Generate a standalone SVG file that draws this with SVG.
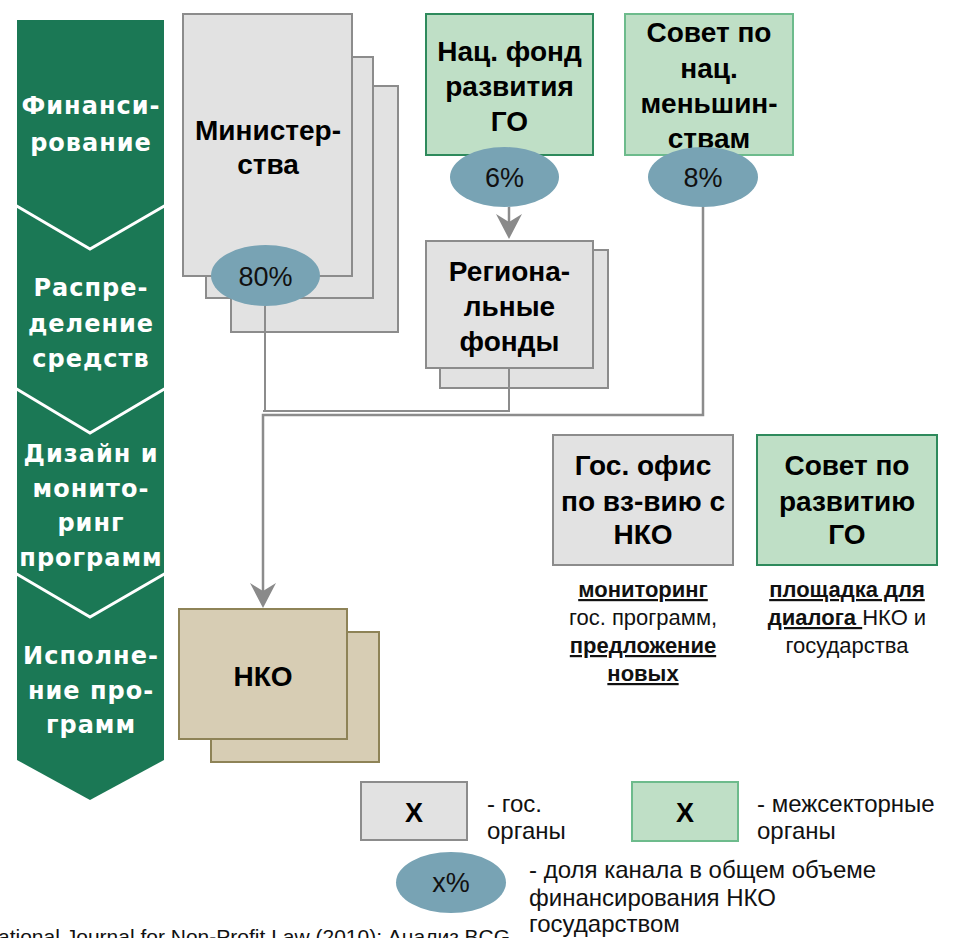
<svg xmlns="http://www.w3.org/2000/svg" width="957" height="938" viewBox="0 0 957 938">
<defs>
<style>
.stage{font-family:"DejaVu Sans",sans-serif;font-weight:bold;font-size:24px;fill:#fff;letter-spacing:1px;text-anchor:middle}
.gov{fill:#e2e2e2;stroke:#8c8c8c;stroke-width:2}
.inter{fill:#bfdfc6;stroke:#2e8a5c;stroke-width:2}
.inter2{fill:#bfdfc6;stroke:#6dbb8c;stroke-width:2}
.nko{fill:#d7cdb4;stroke:#8e8357;stroke-width:2}
.share{fill:#78a3b4}
.lbl{font-family:"Liberation Sans",Arial,sans-serif;font-weight:bold;font-size:28px;fill:#000;text-anchor:middle}
.pct{font-family:"Liberation Sans",Arial,sans-serif;font-size:27px;fill:#111;text-anchor:middle}
.note{font-family:"Liberation Sans",Arial,sans-serif;font-size:22px;fill:#111}
.leg{font-family:"Liberation Sans",Arial,sans-serif;font-size:24px;fill:#111}
.mid{text-anchor:middle}
.u{font-weight:bold;text-decoration:underline}
.conn{fill:none;stroke:#8c8c8c;stroke-width:2}
.sep{fill:none;stroke:#fff;stroke-width:3}
</style>
<marker id="arr" markerUnits="userSpaceOnUse" markerWidth="26" markerHeight="26" viewBox="0 0 26 26" refX="21" refY="13" orient="auto">
<path d="M0,0 L25,13 L0,26 L8,13 z" fill="#8a8a8a"/>
</marker>
</defs>

<g id="stages">
<polygon points="17,20 164,20 164,760 90,800 17,760" fill="#1b7855"/>
<polyline class="sep" points="15,205 90,249 166,205"/>
<polyline class="sep" points="15,388 90,433 166,388"/>
<polyline class="sep" points="15,573 90,617 166,573"/>
<text class="stage" x="91" y="114">Финанси-</text>
<text class="stage" x="91" y="151">рование</text>
<text class="stage" x="91" y="296">Распре-</text>
<text class="stage" x="91" y="332">деление</text>
<text class="stage" x="91" y="367">средств</text>
<text class="stage" x="91" y="462">Дизайн и</text>
<text class="stage" x="91" y="497">монито-</text>
<text class="stage" x="91" y="531">ринг</text>
<text class="stage" x="91" y="566">программ</text>
<text class="stage" x="91" y="664">Исполне-</text>
<text class="stage" x="91" y="699">ние про-</text>
<text class="stage" x="91" y="733">грамм</text>
</g>

<g id="ministries">
<rect class="gov" x="231" y="86" width="167" height="246"/>
<rect class="gov" x="206" y="57" width="167" height="241"/>
<rect class="gov" x="183" y="14" width="169" height="262"/>
<text class="lbl" x="268" y="140">Министер-</text>
<text class="lbl" x="268" y="174">ства</text>
<ellipse class="share" cx="265.5" cy="275.5" rx="54.5" ry="30.5"/>
<text class="pct" x="265.5" y="286">80%</text>
</g>

<g id="natfund">
<rect class="inter" x="426" y="14" width="167" height="141"/>
<text class="lbl" x="509.5" y="61">Нац. фонд</text>
<text class="lbl" x="509.5" y="96">развития</text>
<text class="lbl" x="509.5" y="131">ГО</text>
<ellipse class="share" cx="504.5" cy="177" rx="54.5" ry="30"/>
<text class="pct" x="504.5" y="187">6%</text>
</g>

<g id="minorities">
<rect class="inter2" x="625" y="14" width="168" height="141"/>
<text class="lbl" x="709" y="42">Совет по</text>
<text class="lbl" x="709" y="78">нац.</text>
<text class="lbl" x="709" y="113">меньшин-</text>
<text class="lbl" x="709" y="148">ствам</text>
<ellipse class="share" cx="703" cy="177" rx="55" ry="30"/>
<text class="pct" x="703" y="187">8%</text>
</g>

<g id="regional">
<rect class="gov" x="440" y="250" width="168" height="138"/>
<rect class="gov" x="426" y="241" width="167" height="127"/>
<text class="lbl" x="509.5" y="281">Региона-</text>
<text class="lbl" x="509.5" y="316">льные</text>
<text class="lbl" x="509.5" y="351">фонды</text>
</g>

<g id="govoffice">
<rect class="gov" x="553" y="435" width="180" height="130"/>
<text class="lbl" x="643" y="475">Гос. офис</text>
<text class="lbl" x="643" y="511">по вз-вию с</text>
<text class="lbl" x="643" y="544">НКО</text>
<text class="note mid" x="643" y="597"><tspan class="u">мониторинг</tspan></text>
<text class="note mid" x="643" y="625">гос. программ,</text>
<text class="note mid" x="643" y="653"><tspan class="u">предложение</tspan></text>
<text class="note mid" x="643" y="681"><tspan class="u">новых</tspan></text>
</g>

<g id="civcouncil">
<rect class="inter" x="757" y="435" width="180" height="130"/>
<text class="lbl" x="847" y="475">Совет по</text>
<text class="lbl" x="847" y="511">развитию</text>
<text class="lbl" x="847" y="544">ГО</text>
<text class="note mid" x="847" y="597"><tspan class="u">площадка для</tspan></text>
<text class="note mid" x="847" y="625"><tspan class="u">диалога </tspan>НКО и</text>
<text class="note mid" x="847" y="653">государства</text>
</g>

<g id="nko">
<rect class="nko" x="211" y="632" width="168" height="130"/>
<rect class="nko" x="179" y="609" width="168" height="130"/>
<text class="lbl" x="263" y="686">НКО</text>
</g>

<g id="legend">
<rect class="gov" x="361" y="782" width="106" height="58"/>
<text class="lbl" x="414" y="822" style="font-size:27px">X</text>
<text class="leg" x="487" y="812">- гос.</text>
<text class="leg" x="487" y="839">органы</text>
<rect class="inter2" x="632" y="782" width="106" height="59"/>
<text class="lbl" x="685" y="822" style="font-size:27px">X</text>
<text class="leg" x="757" y="812">- межсекторные</text>
<text class="leg" x="757" y="839">органы</text>
<ellipse class="share" cx="451" cy="882.5" rx="55" ry="30.5"/>
<text class="pct" x="451" y="892">x%</text>
<text class="leg" x="529" y="878">- доля канала в общем объеме</text>
<text class="leg" x="529" y="906">финансирования НКО</text>
<text class="leg" x="529" y="932">государством</text>
</g>

<text id="source" class="note" x="-2" y="944" style="font-size:21px">ational Journal for Non-Profit Law (2010); Анализ BCG</text>

<g id="connectors">
<path class="conn" d="M265,306 V411"/>
<path class="conn" d="M509,368 V411 H263"/>
<path class="conn" d="M703,207 V415 H263 V604" style="stroke-width:2.5" marker-end="url(#arr)"/>
<path class="conn" d="M509,207 V235" style="stroke-width:2.5" marker-end="url(#arr)"/>
</g>
</svg>
